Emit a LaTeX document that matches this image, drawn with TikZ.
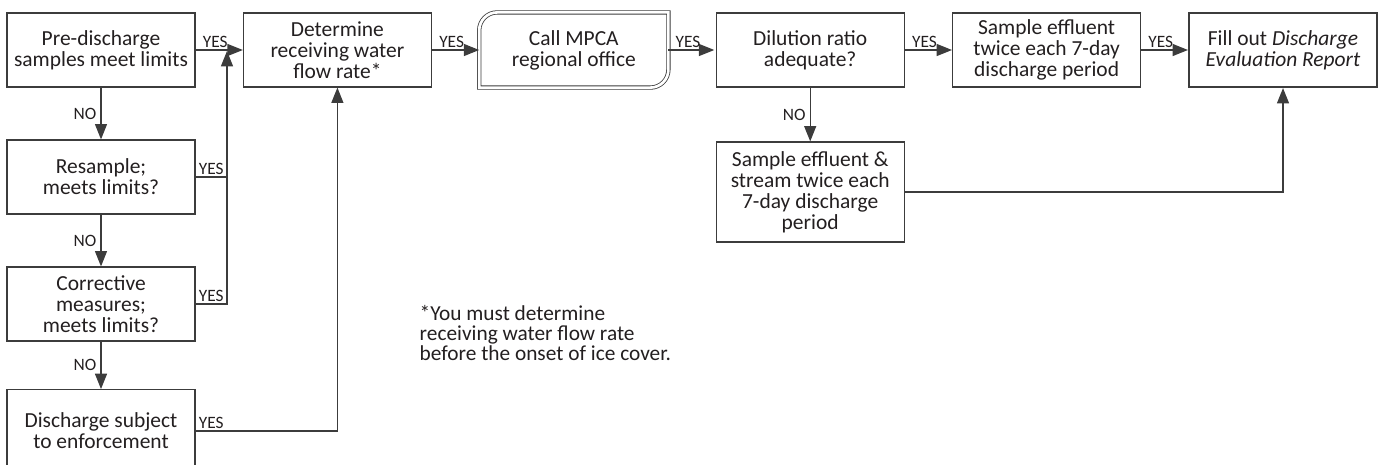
\documentclass[tikz,border=0pt]{standalone}
\usepackage{fontspec}
\setmainfont{Carlito}
\usepackage{tikz}
\usetikzlibrary{arrows.meta}

\definecolor{ink}{RGB}{35,31,32}
\definecolor{wire}{RGB}{60,60,60}

\begin{document}
\begin{tikzpicture}[x=0.75pt, y=-0.75pt, node distance=177.3pt, text=ink,
	box/.style={rectangle,draw=wire,line width=0.9pt,align=center,minimum width=141pt,minimum height=55.5pt,inner sep=2pt,
		font={\fontsize{16.1}{15.8}\selectfont\lineskiplimit=-10pt\relax}},
	link/.style={draw=wire,line width=0.9pt},
	arr/.style={link,-{Triangle[length=11.5pt,width=9pt]}},
	yes/.style={anchor=south west,inner sep=1pt,xshift=4pt,font=\fontsize{13}{13}\selectfont},
	no/.style={left,inner sep=3pt,font=\fontsize{13}{13}\selectfont}]
	
	\useasboundingbox (0,0) rectangle (1380,464);
	
	\node[box] (pre) at (101,50) {Pre-discharge\\samples meet limits};
	\node[box] (det) [right of=pre] {Determine\\receiving water\\flow rate*};
	\node[box,draw=none] (mpca) [right of=det] {Call MPCA\\regional office};
	\node[box] (dil) [right of=mpca] {Dilution ratio\\adequate?};
	\node[box] (samp) [right of=dil] {Sample effluent\\twice each 7-day\\discharge period};
	\node[box,line width=1.6pt] (fill) [right of=samp] {Fill out \textit{Discharge}\\\textit{Evaluation Report}};
	
	\node[box] (res) [below of=pre,node distance=95.25pt] {Resample;\\meets limits?};
	\node[box] (corr) [below of=res,node distance=95.25pt] {Corrective\\measures;\\meets limits?};
	\node[box,minimum height=62pt] (enf) [below of=corr,node distance=95.25pt] {Discharge subject\\to enforcement};
	\node[box,minimum height=75pt] (stream) [below of=dil,node distance=106.5pt] {Sample effluent \&\\stream twice each\\7-day discharge\\period};
	
	\node[align=left,anchor=west,font=\fontsize{16}{15}\selectfont] (note) at (415,333)
	{*You must determine\\receiving water flow rate\\before the onset of ice cover.};
	
	% double border, two rounded corners
	\draw[wire,line width=0.6pt,double,double distance=2pt] (mpca.north east)
	-- ([yshift=13.5pt]mpca.south east) arc[start angle=0,end angle=-90,radius=13.5pt]
	-- (mpca.south west)
	-- ([yshift=-13.5pt]mpca.north west) arc[start angle=180,end angle=90,radius=13.5pt]
	-- cycle;
	
	\coordinate (join) at (227,51);
	
	\draw[arr] (pre) -- node[yes,pos=0]{YES} (det);
	\draw[arr] (det) -- node[yes,pos=0]{YES} (mpca);
	\draw[arr,shorten >=1pt] (mpca) -- node[yes,pos=0]{YES} (dil);
	\draw[arr] (dil) -- node[yes,pos=0]{YES} (samp);
	\draw[arr] (samp) -- node[yes,pos=0]{YES} (fill);
	
	\draw[arr] (pre) -- node[no]{NO} (res);
	\draw[arr] (res) -- node[no]{NO} (corr);
	\draw[arr] (corr) -- node[no]{NO} (enf);
	\draw[arr] (dil) -- node[no]{NO} (stream);
	
	\draw[link] (res.east) node[yes,xshift=-3pt]{YES} -- (res.east -| join);
	\draw[arr] (corr.east) node[yes,xshift=-3pt]{YES} -| (join);
	\draw[arr] (enf.east) node[yes,xshift=-3pt]{YES} -| (det.south);
	\draw[arr] (stream.east) -| (fill.south);
	
\end{tikzpicture}
\end{document}
